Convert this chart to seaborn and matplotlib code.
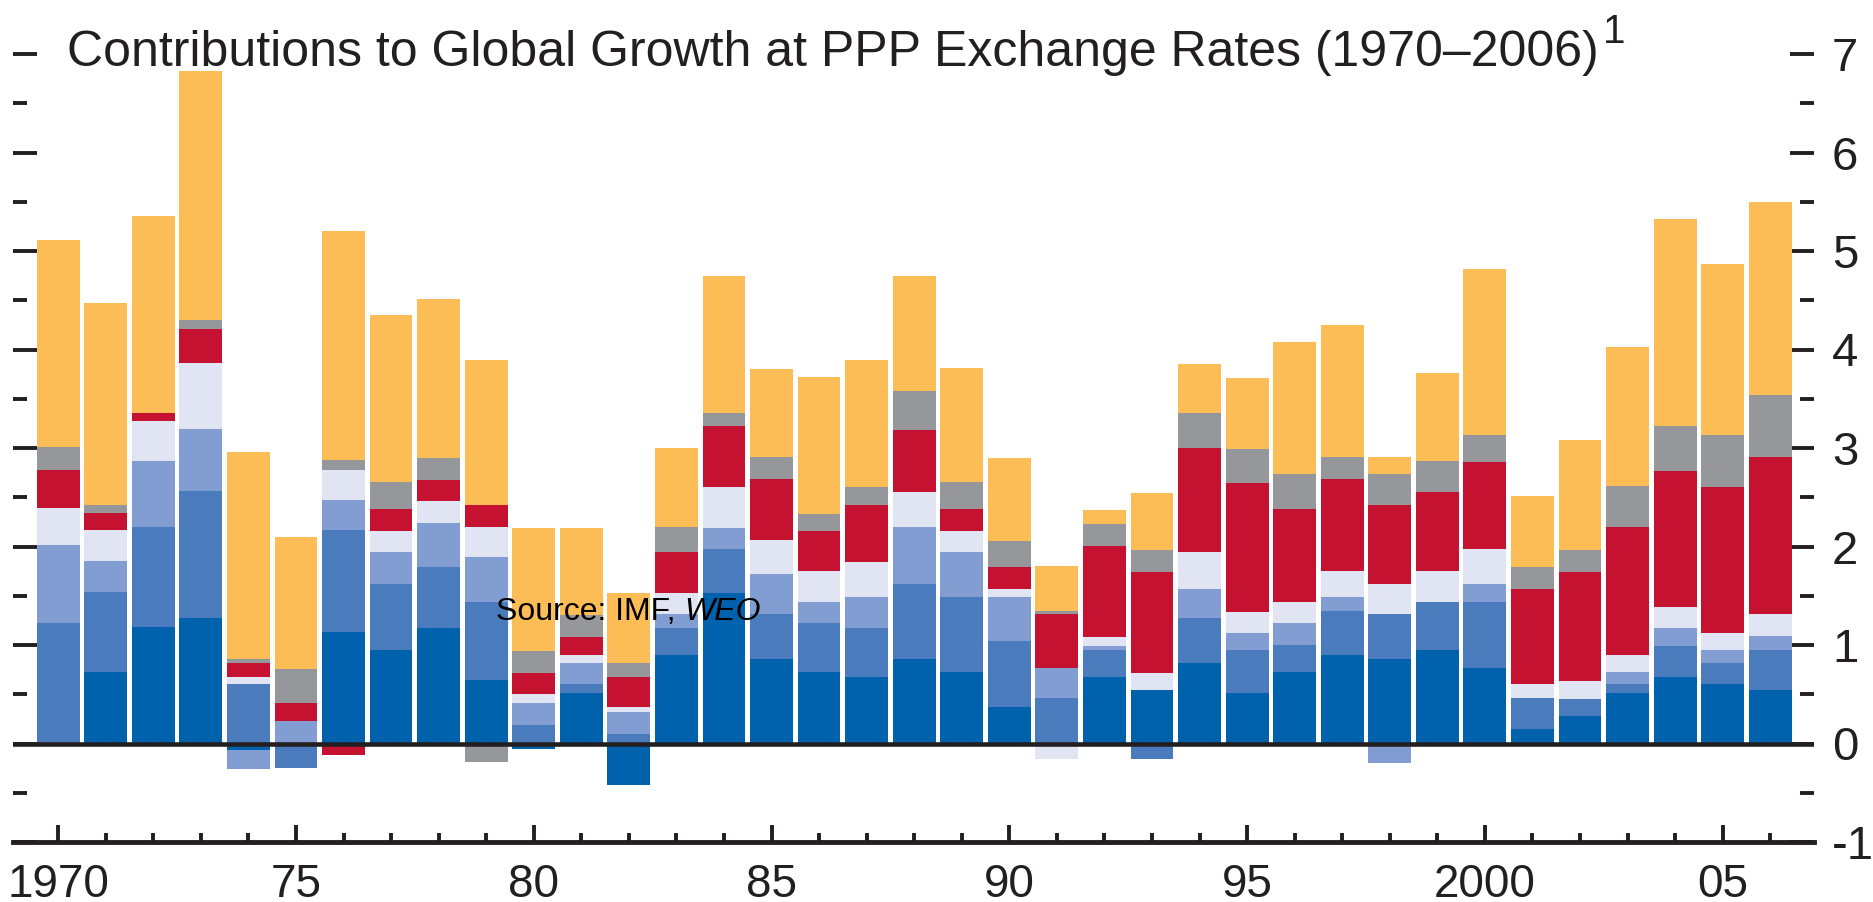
import numpy as np
import matplotlib
matplotlib.use("Agg")
import matplotlib.pyplot as plt
import seaborn as sns
from matplotlib.ticker import FixedLocator, FixedFormatter, MultipleLocator

# Data: contributions to world growth (percentage points), 1970-2006
years = list(range(1970, 2007))

dark_blue = [0.00, 0.73, 1.18, 1.27, -0.07, 0.00, 1.13, 0.95, 1.17, 0.64,
             -0.06, 0.51, -0.42, 0.90, 1.53, 0.86, 0.73, 0.68, 0.86, 0.73,
             0.37, 0.00, 0.68, 0.54, 0.82, 0.51, 0.73, 0.90, 0.86, 0.95,
             0.77, 0.15, 0.28, 0.51, 0.68, 0.60, 0.54]
mid_blue = [1.22, 0.81, 1.02, 1.29, 0.60, -0.25, 1.04, 0.67, 0.62, 0.80,
            0.19, 0.09, 0.10, 0.27, 0.44, 0.45, 0.49, 0.49, 0.76, 0.76,
            0.67, 0.46, 0.27, -0.16, 0.45, 0.44, 0.27, 0.45, 0.45, 0.49,
            0.67, 0.31, 0.17, 0.09, 0.31, 0.22, 0.41]
light_blue = [0.80, 0.31, 0.67, 0.63, -0.19, 0.23, 0.30, 0.32, 0.45, 0.45,
              0.22, 0.22, 0.22, 0.14, 0.22, 0.41, 0.22, 0.32, 0.58, 0.45,
              0.45, 0.31, 0.04, 0.00, 0.30, 0.17, 0.22, 0.14, -0.20, 0.00,
              0.18, 0.00, 0.00, 0.13, 0.18, 0.13, 0.14]
lavender = [0.37, 0.32, 0.40, 0.67, 0.08, 0.00, 0.31, 0.22, 0.22, 0.31,
            0.09, 0.08, 0.05, 0.22, 0.41, 0.35, 0.31, 0.35, 0.35, 0.22,
            0.08, -0.16, 0.09, 0.18, 0.37, 0.22, 0.22, 0.26, 0.31, 0.31,
            0.35, 0.14, 0.18, 0.17, 0.22, 0.17, 0.22]
red = [0.39, 0.17, 0.09, 0.35, 0.14, 0.18, -0.12, 0.22, 0.22, 0.22,
       0.22, 0.18, 0.31, 0.41, 0.62, 0.62, 0.41, 0.58, 0.63, 0.22,
       0.22, 0.54, 0.93, 1.02, 1.06, 1.30, 0.94, 0.94, 0.80, 0.80,
       0.89, 0.97, 1.11, 1.30, 1.38, 1.48, 1.60]
gray = [0.23, 0.08, 0.00, 0.09, 0.04, 0.35, 0.10, 0.27, 0.22, -0.19,
        0.22, 0.22, 0.14, 0.26, 0.14, 0.22, 0.17, 0.18, 0.40, 0.27,
        0.27, 0.04, 0.22, 0.22, 0.36, 0.35, 0.36, 0.22, 0.32, 0.32,
        0.27, 0.22, 0.22, 0.41, 0.45, 0.53, 0.63]
orange = [2.10, 2.05, 2.00, 2.53, 2.10, 1.34, 2.32, 1.70, 1.61, 1.47,
          1.25, 0.89, 0.71, 0.80, 1.39, 0.89, 1.39, 1.29, 1.17, 1.16,
          0.84, 0.45, 0.14, 0.58, 0.49, 0.72, 1.34, 1.34, 0.17, 0.89,
          1.69, 0.72, 1.12, 1.42, 2.10, 1.74, 1.96]

series = [dark_blue, mid_blue, light_blue, lavender, red, gray, orange]
colors = ["#0061AD", "#4A7BBD", "#829DD2", "#E1E4F3", "#C41230", "#96979B", "#FDBD56"]

year_ticks = [1970, 1975, 1980, 1985, 1990, 1995, 2000, 2005]
year_labels = ["1970", "75", "80", "85", "90", "95", "2000", "05"]
y_ticks = [-1, 0, 1, 2, 3, 4, 5, 6, 7]
y_labels = ["-1", "0", "1", "2", "3", "4", "5", "6", "7"]

ink = "#231F20"

sns.set_theme(style="white")
plt.rcParams["font.family"] = ["Liberation Sans", "DejaVu Sans"]

fig = plt.figure(figsize=(18.73, 9.02), dpi=100)
ax = fig.add_axes([12.5 / 1873, 60 / 902, (1814 - 12.5) / 1873, (848 - 60) / 902])

# stacked bars, positives up from zero and negatives down from zero
pos = np.zeros(len(years))
neg = np.zeros(len(years))
for vals, col in zip(series, colors):
    v = np.array(vals)
    base = np.where(v >= 0, pos, neg)
    ax.bar(years, v, bottom=base, width=0.9, color=col, linewidth=0, zorder=2)
    pos += np.clip(v, 0, None)
    neg += np.clip(v, None, 0)

ax.axhline(0, color=ink, lw=3.3, zorder=5)

ax.set_xlim(1969.04, 2006.92)
ax.set_ylim(-1, 7)

for side in ["top", "left", "right"]:
    ax.spines[side].set_visible(False)
ax.spines["bottom"].set_color(ink)
ax.spines["bottom"].set_linewidth(3.5)

ax.xaxis.set_major_locator(FixedLocator(year_ticks))
ax.xaxis.set_major_formatter(FixedFormatter(year_labels))
ax.xaxis.set_minor_locator(MultipleLocator(1))
ax.yaxis.set_major_locator(FixedLocator(y_ticks))
ax.yaxis.set_major_formatter(FixedFormatter(y_labels))
ax.yaxis.set_minor_locator(MultipleLocator(0.5))

ax.tick_params(axis="x", which="major", direction="in", length=12, width=2.8,
               color=ink, labelsize=33, labelcolor=ink, pad=15, bottom=True)
ax.tick_params(axis="x", which="minor", direction="in", length=6.5, width=2.8,
               color=ink, bottom=True)
ax.tick_params(axis="y", which="major", direction="in", length=17, width=2.8,
               color=ink, labelsize=34, labelcolor=ink, pad=13,
               left=True, right=True, labelleft=False, labelright=True)
ax.tick_params(axis="y", which="minor", direction="in", length=10, width=2.8,
               color=ink, left=True, right=True)
ax.grid(False)

# title with footnote mark
title = fig.text(67 / 1873, (902 - 66) / 902,
                 "Contributions to Global Growth at PPP Exchange Rates (1970\u20132006)",
                 fontsize=36, color=ink, va="baseline", ha="left")
src = fig.text(496 / 1873, (902 - 620) / 902, "Source: IMF, ",
               fontsize=23, color="black", va="baseline", ha="left")

fig.canvas.draw()
r = fig.canvas.get_renderer()
tb = title.get_window_extent(r)
fig.text((tb.x1 + 4) / 1873, (902 - 43) / 902, "1", fontsize=29, color=ink,
         va="baseline", ha="left")
sb = src.get_window_extent(r)
fig.text(sb.x1 / 1873, (902 - 620) / 902, "WEO", fontsize=23, style="italic",
         color="black", va="baseline", ha="left")

fig.savefig("out.png", dpi=100)
